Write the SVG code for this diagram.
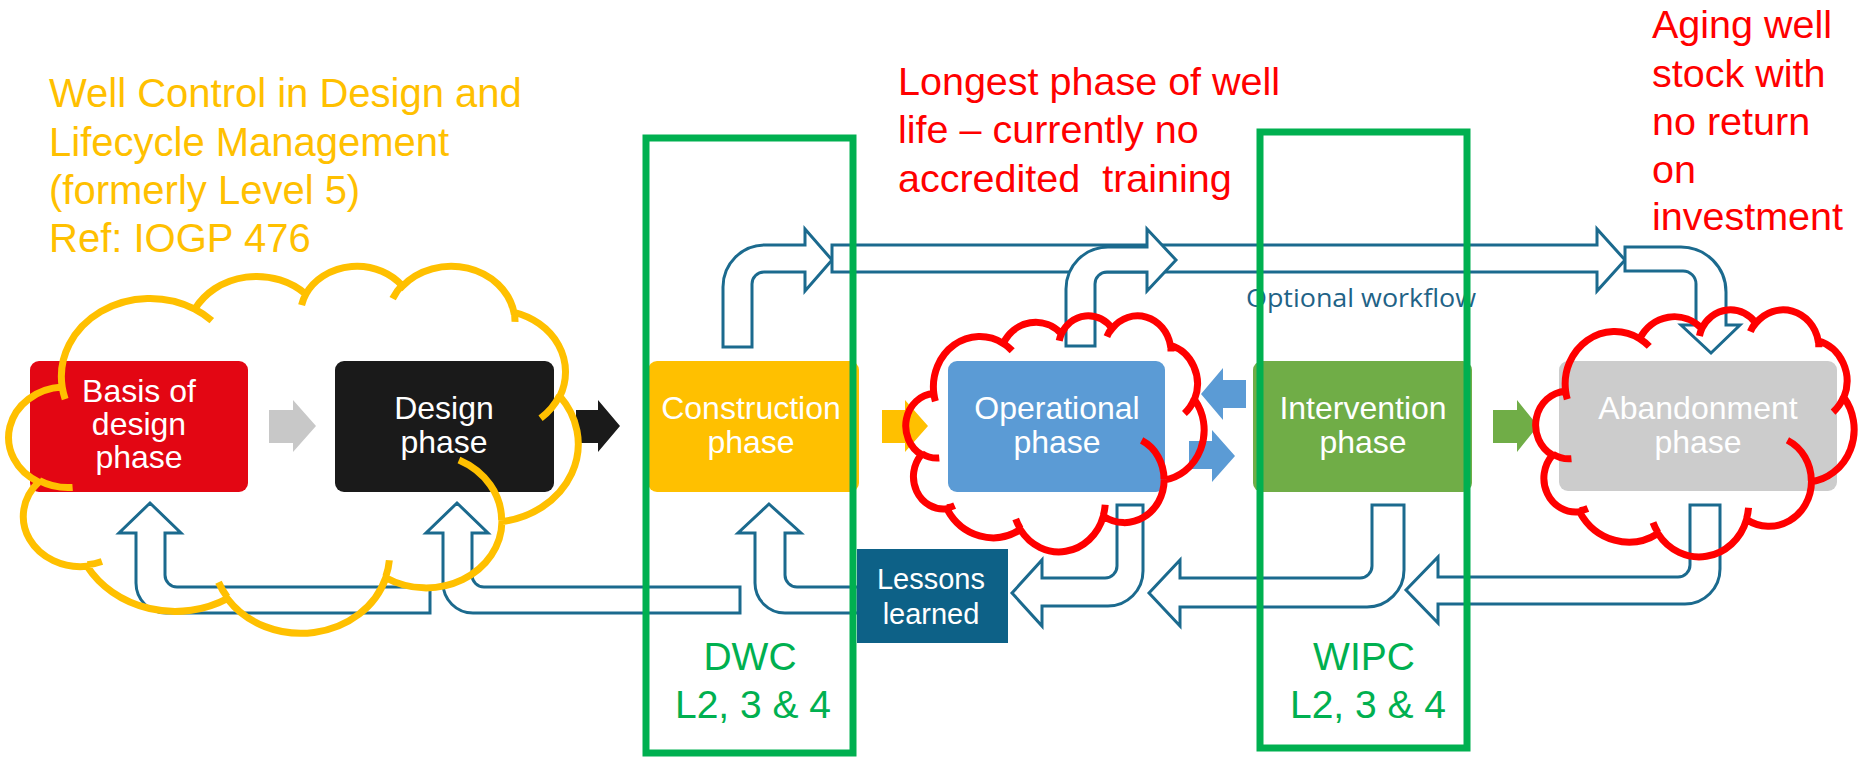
<svg xmlns="http://www.w3.org/2000/svg" width="1862" height="757" viewBox="0 0 1862 757">
  <style>
    .pipe { fill: #ffffff; stroke: #1B6A8E; stroke-width: 3; stroke-linejoin: miter; }
    .lbl { font-family: "Liberation Sans", Arial, sans-serif; font-size: 32px; fill: #ffffff; text-anchor: middle; }
    .frame { fill: none; stroke: #00B050; stroke-width: 7; }
    .note { font-family: "Liberation Sans", Arial, sans-serif; font-size: 39.5px; }
    .lvl { font-family: "Liberation Sans", Arial, sans-serif; font-size: 39px; fill: #00B050; text-anchor: middle; }
  </style>
  <defs>
    <!-- cloud outline in a 43200 x 43200 unit box, with the small inner hooks -->
    <path id="cloud-shape" fill="none" stroke-width="7" vector-effect="non-scaling-stroke"
      d="M3900 14370 A6753 9190 0 0 1 14005 5202 A5333 7267 0 0 1 22455 3432 A4365 5945 0 0 1 29832 2480 A4857 6595 0 0 1 38318 5575 A5333 7273 0 0 1 41818 15458 A6775 9220 0 0 1 37405 30203 A5785 7867 0 0 1 28556 36813 A6752 9215 0 0 1 16482 39265 A7720 10543 0 0 1 5805 35472 A4360 5918 0 0 1 2114 25549 A4345 5945 0 0 1 3900 14370 Z
         M4693 26177 A4345 5945 0 0 1 2159 25380
         M6928 34899 A4360 5918 0 0 1 5819 35281
         M16478 39090 A6752 9215 0 0 1 15810 37348
         M28827 34751 A6752 9215 0 0 1 28560 36661
         M34129 22954 A5785 7867 0 0 1 37381 30090
         M41798 15354 A5333 7273 0 0 1 40349 18031
         M38324 5426 A4857 6595 0 0 1 38400 6690
         M29078 3952 A4857 6595 0 0 1 29820 2339
         M22141 4720 A4365 5945 0 0 1 22500 3330
         M14000 5192 A6753 9190 0 0 1 15300 6541
         M4127 15789 A6753 9190 0 0 1 3900 14370"/>
  </defs>

  <rect width="1862" height="757" fill="#ffffff"/>

  <!-- connectors: feedback pipes, optional workflow pipes and phase-to-phase arrows -->
  <g id="connectors">
    <!-- lessons learned feedback into the early phases -->
    <path class="pipe" d="M150 503 L181 533 L165 533 L165 575 A12 12 0 0 0 177 587 L430 587 L430 613 L166 613 A30 30 0 0 1 136 583 L136 533 L119 533 Z"/>
    <path class="pipe" d="M457 503 L488 533 L472 533 L472 575 A12 12 0 0 0 484 587 L740 587 L740 613 L473 613 A30 30 0 0 1 443 583 L443 533 L426 533 Z"/>
    <path class="pipe" d="M769 504 L801 533 L785 533 L785 575 A12 12 0 0 0 797 587 L858 587 L858 613 L785 613 A30 30 0 0 1 755 583 L755 533 L738 533 Z"/>
    <!-- returns from later phases to lessons learned -->
    <path class="pipe" d="M1117 505 L1143 505 L1143 571 A35 35 0 0 1 1108 606 L1042 606 L1042 626 L1012 593 L1042 560 L1042 578 L1105 578 A12 12 0 0 0 1117 566 Z"/>
    <path class="pipe" d="M1372 505 L1404 505 L1404 570 A37 37 0 0 1 1367 607 L1180 607 L1180 626 L1149 593 L1180 560 L1180 578 L1360 578 A12 12 0 0 0 1372 566 Z"/>
    <path class="pipe" d="M1690 505 L1720 505 L1720 569 A35 35 0 0 1 1685 604 L1438 604 L1438 623 L1406 590 L1438 557 L1438 577 L1678 577 A12 12 0 0 0 1690 565 Z"/>
    <!-- optional workflow across the top -->
    <path class="pipe" d="M723 347 L723 287 A42 42 0 0 1 765 245 L805 245 L805 229 L832 260 L805 291 L805 272 L764 272 A12 12 0 0 0 752 284 L752 347 Z"/>
    <path class="pipe" d="M832 245 L1597 245 L1597 229 L1625 260 L1597 291 L1597 272 L832 272 Z"/>
    <path class="pipe" d="M1066 346 L1066 289 A42 42 0 0 1 1108 247 L1147 247 L1147 229 L1176 260 L1147 291 L1147 272 L1107 272 A12 12 0 0 0 1095 284 L1095 346 Z"/>
    <path class="pipe" d="M1625 247 L1681 247 A45 45 0 0 1 1726 292 L1726 325 L1740 325 L1711 353 L1681 325 L1696 325 L1696 284 A13 13 0 0 0 1683 271 L1625 271 Z"/>
    <text x="1361" y="307" font-family="'Open Sans', 'Liberation Sans', sans-serif" font-size="26" fill="#1F6387" text-anchor="middle" textLength="230" lengthAdjust="spacingAndGlyphs">Optional workflow</text>
    <!-- solid arrows between phases -->
    <polygon fill="#C8C8C8" points="269,410 293,410 293,400 316,426 293,452 293,443 269,443"/>
    <polygon fill="#1A1A1A" points="576,410 598,410 598,400 620,426 598,452 598,443 576,443"/>
    <polygon fill="#FFC000" points="882,410 905,410 905,400 928,426 905,452 905,443 882,443"/>
    <polygon fill="#5B9BD5" points="1246,380 1223,380 1223,368 1201,394 1223,420 1223,408 1246,408"/>
    <polygon fill="#5B9BD5" points="1189,441 1212,441 1212,430 1235,456 1212,482 1212,469 1189,469"/>
    <polygon fill="#70AD47" points="1493,410 1517,410 1517,400 1538,426 1517,452 1517,443 1493,443"/>
  </g>

  <!-- phase boxes -->
  <g id="basis">
    <rect x="30" y="361" width="218" height="131" rx="9" fill="#E30613"/>
    <text class="lbl"><tspan x="139" y="402">Basis of</tspan><tspan x="139" y="435">design</tspan><tspan x="139" y="468">phase</tspan></text>
  </g>
  <g id="design">
    <rect x="335" y="361" width="219" height="131" rx="9" fill="#1A1A1A"/>
    <text class="lbl"><tspan x="444" y="419">Design</tspan><tspan x="444" y="453">phase</tspan></text>
  </g>
  <g id="construction">
    <rect x="648" y="361" width="211" height="131" rx="9" fill="#FFC000"/>
    <text class="lbl"><tspan x="751" y="419">Construction</tspan><tspan x="751" y="453">phase</tspan></text>
  </g>
  <g id="operational">
    <rect x="948" y="361" width="217" height="131" rx="9" fill="#5B9BD5"/>
    <text class="lbl"><tspan x="1057" y="419">Operational</tspan><tspan x="1057" y="453">phase</tspan></text>
  </g>
  <g id="intervention">
    <rect x="1253" y="361" width="219" height="131" rx="9" fill="#70AD47"/>
    <text class="lbl"><tspan x="1363" y="419">Intervention</tspan><tspan x="1363" y="453">phase</tspan></text>
  </g>
  <g id="abandonment">
    <rect x="1559" y="361" width="278" height="130" rx="9" fill="#CCCCCC"/>
    <text class="lbl"><tspan x="1698" y="419">Abandonment</tspan><tspan x="1698" y="453">phase</tspan></text>
  </g>
  <g id="lessons">
    <rect x="857" y="549" width="151" height="94" fill="#0D6187"/>
    <text class="lbl" font-size="29" style="font-size:29px"><tspan x="931" y="589">Lessons</tspan><tspan x="931" y="624">learned</tspan></text>
  </g>

  <!-- highlight clouds -->
  <g id="cloud-design">
    <use href="#cloud-shape" stroke="#FFC000" transform="translate(11 265) scale(0.013125 0.0084954)"/>
  </g>
  <g id="cloud-operational">
    <use href="#cloud-shape" stroke="#FF0000" transform="translate(907 315) scale(0.006875 0.005463)"/>
  </g>
  <g id="cloud-abandonment">
    <use href="#cloud-shape" stroke="#FF0000" transform="translate(1537 309) scale(0.007338 0.0057176)"/>
  </g>

  <!-- training scope frames -->
  <g id="dwc">
    <rect class="frame" x="646" y="138" width="207" height="615"/>
    <text class="lvl"><tspan x="750" y="670">DWC</tspan><tspan x="753" y="718">L2, 3 &amp; 4</tspan></text>
  </g>
  <g id="wipc">
    <rect class="frame" x="1260" y="132" width="207" height="616"/>
    <text class="lvl"><tspan x="1364" y="670">WIPC</tspan><tspan x="1368" y="718">L2, 3 &amp; 4</tspan></text>
  </g>

  <!-- notes -->
  <g id="note-design">
    <text class="note" fill="#FFC000" font-size="40" style="font-size:40px"><tspan x="49" y="107">Well Control in Design and</tspan><tspan x="49" y="156">Lifecycle Management</tspan><tspan x="49" y="204">(formerly Level 5)</tspan><tspan x="49" y="252">Ref: IOGP 476</tspan></text>
  </g>
  <g id="note-operational">
    <text class="note" fill="#FF0000" xml:space="preserve"><tspan x="898" y="95">Longest phase of well</tspan><tspan x="898" y="143">life – currently no</tspan><tspan x="898" y="192">accredited  training</tspan></text>
  </g>
  <g id="note-abandonment">
    <text class="note" fill="#FF0000"><tspan x="1652" y="38">Aging well</tspan><tspan x="1652" y="87">stock with</tspan><tspan x="1652" y="135">no return</tspan><tspan x="1652" y="183">on</tspan><tspan x="1652" y="230">investment</tspan></text>
  </g>
</svg>
